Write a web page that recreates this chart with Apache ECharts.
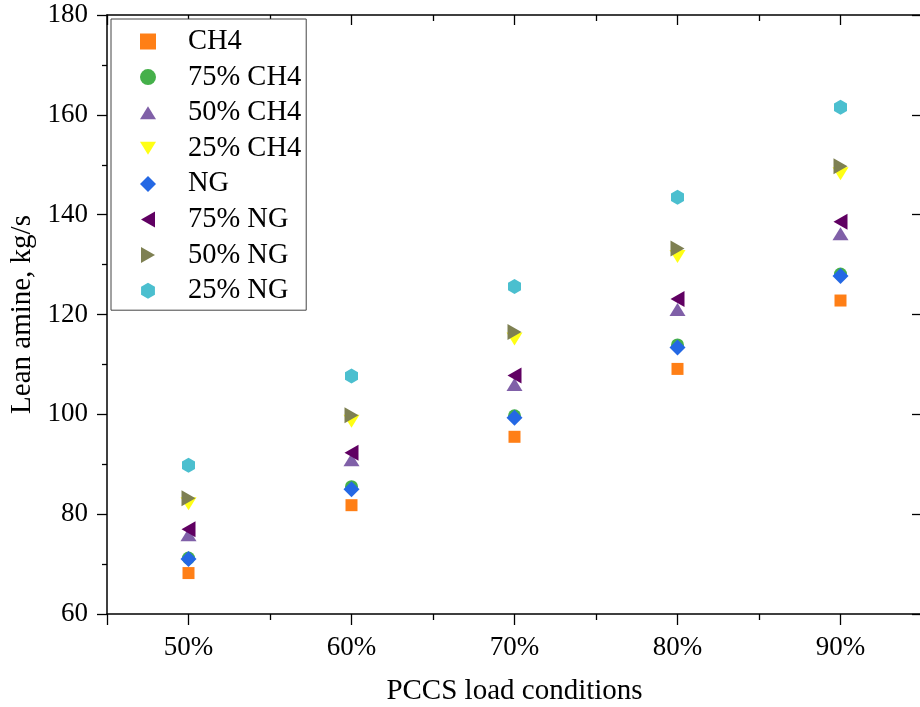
<!DOCTYPE html>
<html>
<head>
<meta charset="utf-8">
<script src="https://cdn.jsdelivr.net/npm/echarts@6/dist/echarts.min.js"></script>
<style>
  html, body { margin: 0; padding: 0; background: #fff; }
  #chart { width: 920px; height: 707px; }
</style>
</head>
<body>
<div id="chart"></div>
<script>
// PCCS load conditions (%) on the x axis
const loads = [50, 60, 70, 80, 90];

// Lean amine flow (kg/s) per fuel case
const ch4     = [68.2, 81.8, 95.5, 109.1, 122.8];
const ch4_75  = [71.2, 85.5, 99.7, 113.9, 128.1];
const ch4_50  = [75.9, 90.9, 106.0, 121.0, 136.2];
const ch4_25  = [82.1, 98.6, 115.1, 131.6, 148.2];
const ng      = [71.0, 85.0, 99.3, 113.4, 127.7];
const ng_75   = [77.0, 92.3, 107.8, 123.1, 138.6];
const ng_50   = [83.2, 99.8, 116.5, 133.2, 149.7];
const ng_25   = [89.8, 107.7, 125.6, 143.5, 161.5];

const seriesNames = ['CH4', '75% CH4', '50% CH4', '25% CH4', 'NG', '75% NG', '50% NG', '25% NG'];
const yTicks = [60, 80, 100, 120, 140, 160, 180];

const FONT = '"Liberation Serif", "Times New Roman", serif';

// Marker shapes
const TRI_UP = 'path://M8,0L16,13L0,13Z';
const TRI_DOWN = 'path://M0,0L16,0L8,13Z';
const TRI_LEFT = 'path://M0,8L14,0L14,16Z';
const TRI_RIGHT = 'path://M0,0L14,8L0,16Z';
const HEXAGON = 'path://M6.5,0L13,3.75L13,11.25L6.5,15L0,11.25L0,3.75Z';

const styles = [
  { data: ch4,    color: '#FF7F16', symbol: 'rect',    size: [12, 12] },
  { data: ch4_75, color: '#45B04A', symbol: 'circle',  size: 13 },
  { data: ch4_50, color: '#8060A8', symbol: TRI_UP,    size: [16, 13] },
  { data: ch4_25, color: '#FFFF14', symbol: TRI_DOWN,  size: [16, 13] },
  { data: ng,     color: '#2468E4', symbol: 'diamond', size: [16, 16] },
  { data: ng_75,  color: '#600062', symbol: TRI_LEFT,  size: [14, 16] },
  { data: ng_50,  color: '#7E8052', symbol: TRI_RIGHT, size: [14, 16] },
  { data: ng_25,  color: '#4BBFCF', symbol: HEXAGON,   size: [13, 15] }
];

const series = styles.map((s, i) => ({
  name: seriesNames[i],
  type: 'scatter',
  symbol: s.symbol,
  symbolSize: s.size,
  itemStyle: { color: s.color, opacity: 1 },
  data: loads.map((x, j) => [x, s.data[j]]),
  z: 2
}));

const chart = echarts.init(document.getElementById('chart'), null, { renderer: 'canvas' });

const axisLine = { show: true, lineStyle: { color: '#000', width: 1.5 } };
const tickStyle = { color: '#000', width: 1.3 };

chart.setOption({
  animation: false,
  backgroundColor: '#fff',
  grid: { left: 107, right: -2, top: 15, bottom: 93, outerBoundsMode: 'none', containLabel: false },
  legend: {
    orient: 'vertical',
    left: 111,
    top: 19,
    padding: [8, 5, 5, 29],
    itemWidth: 16,
    itemHeight: 16,
    itemGap: 6.6,
    borderColor: '#444',
    borderWidth: 1,
    backgroundColor: '#fff',
    textStyle: { fontFamily: FONT, fontSize: 28.5, color: '#000', lineHeight: 28.5, padding: [0, 0, 0, 27] },
    data: seriesNames
  },
  xAxis: [
    {
      type: 'value',
      position: 'bottom',
      min: 45,
      max: 95,
      splitNumber: 5,
      axisLine: axisLine,
      axisTick: { show: true, inside: false, length: 11, lineStyle: tickStyle },
      minorTick: { show: true, splitNumber: 2, length: 6, lineStyle: tickStyle },
      splitLine: { show: false },
      axisLabel: {
        margin: 20,
        fontFamily: FONT, fontSize: 27, color: '#000',
        formatter: v => (loads.indexOf(v) >= 0 ? v + '%' : '')
      },
      name: 'PCCS load conditions',
      nameLocation: 'middle',
      nameGap: 63,
      nameTextStyle: { fontFamily: FONT, fontSize: 29, color: '#000' }
    },
    {
      type: 'value',
      position: 'top',
      min: 45,
      max: 95,
      splitNumber: 5,
      axisLine: axisLine,
      axisTick: { show: true, inside: true, length: 10, lineStyle: tickStyle },
      minorTick: { show: true, splitNumber: 2, length: 6, lineStyle: tickStyle },
      splitLine: { show: false },
      axisLabel: { show: false }
    }
  ],
  yAxis: [
    {
      type: 'value',
      min: yTicks[0],
      max: yTicks[yTicks.length - 1],
      interval: 20,
      axisLine: axisLine,
      axisTick: { show: true, inside: false, length: 10, lineStyle: tickStyle },
      minorTick: { show: true, splitNumber: 2, length: 5, lineStyle: tickStyle },
      splitLine: { show: false },
      axisLabel: { margin: 19, fontFamily: FONT, fontSize: 27, color: '#000' },
      name: 'Lean amine, kg/s',
      nameLocation: 'middle',
      nameGap: 68,
      nameTextStyle: { fontFamily: FONT, fontSize: 29, color: '#000' }
    },
    {
      type: 'value',
      position: 'right',
      min: yTicks[0],
      max: yTicks[yTicks.length - 1],
      interval: 20,
      axisLine: axisLine,
      axisTick: { show: true, inside: true, length: 10, lineStyle: tickStyle },
      splitLine: { show: false },
      axisLabel: { show: false }
    }
  ],
  series: series
});
</script>
</body>
</html>
